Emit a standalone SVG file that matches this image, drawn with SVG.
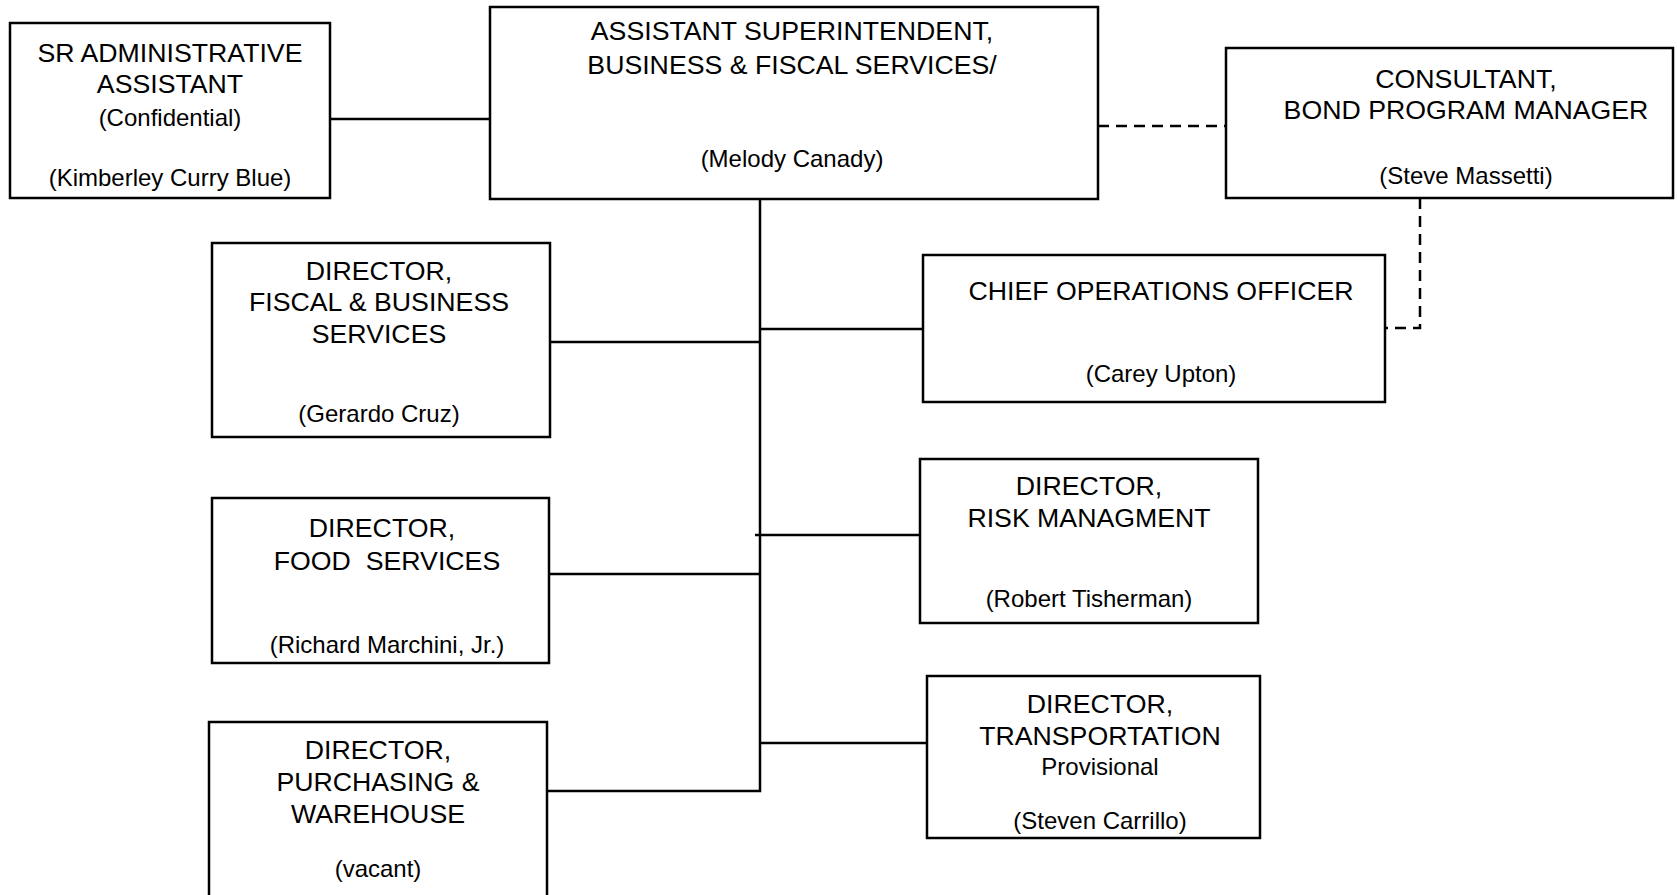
<svg xmlns="http://www.w3.org/2000/svg" width="1677" height="895" viewBox="0 0 1677 895">
<style>
rect{fill:#fff;stroke:#000;stroke-width:2.5}
text{font-family:"Liberation Sans",Arial,sans-serif;fill:#000;text-anchor:middle;white-space:pre}
.t{font-size:26.7px}
.s{font-size:24px}
.c line,.c path{stroke:#000;stroke-width:2.5;fill:none}
.c .d{stroke-dasharray:11 7}
</style>
<rect x="0" y="0" width="1677" height="895" style="stroke:none"/>
<g class="c" id="connectors">
<line x1="329" y1="119" x2="490" y2="119"/>
<line class="d" x1="1098" y1="126" x2="1226" y2="126"/>
<path class="d" d="M1420 198 V328 H1385"/>
<path d="M760 199 V791 H548"/>
<line x1="550" y1="342" x2="760" y2="342"/>
<line x1="760" y1="329" x2="923" y2="329"/>
<line x1="755" y1="535" x2="920" y2="535"/>
<line x1="549" y1="574" x2="760" y2="574"/>
<line x1="760" y1="743" x2="927" y2="743"/>
</g>
<g id="sr-admin">
<rect x="10" y="23" width="320" height="175"/>
<text class="t" x="170" y="62">SR ADMINISTRATIVE</text>
<text class="t" x="170" y="93">ASSISTANT</text>
<text class="s" x="170" y="126">(Confidential)</text>
<text class="s" x="170" y="186">(Kimberley Curry Blue)</text>
</g>
<g id="asst-super">
<rect x="490" y="7" width="608" height="192"/>
<text class="t" x="792" y="40">ASSISTANT SUPERINTENDENT,</text>
<text class="t" x="792" y="74">BUSINESS &amp; FISCAL SERVICES/</text>
<text class="s" x="792" y="167">(Melody Canady)</text>
</g>
<g id="consultant">
<rect x="1226" y="48" width="447" height="150"/>
<text class="t" x="1466" y="88">CONSULTANT,</text>
<text class="t" x="1466" y="119">BOND PROGRAM MANAGER</text>
<text class="s" x="1466" y="184">(Steve Massetti)</text>
</g>
<g id="coo">
<rect x="923" y="255" width="462" height="147"/>
<text class="t" x="1161" y="300">CHIEF OPERATIONS OFFICER</text>
<text class="s" x="1161" y="382">(Carey Upton)</text>
</g>
<g id="fiscal">
<rect x="212" y="243" width="338" height="194"/>
<text class="t" x="379" y="280">DIRECTOR,</text>
<text class="t" x="379" y="311">FISCAL &amp; BUSINESS</text>
<text class="t" x="379" y="343">SERVICES</text>
<text class="s" x="379" y="422">(Gerardo Cruz)</text>
</g>
<g id="food">
<rect x="212" y="498" width="337" height="165"/>
<text class="t" x="382" y="537">DIRECTOR,</text>
<text class="t" x="387" y="570">FOOD  SERVICES</text>
<text class="s" x="387" y="653">(Richard Marchini, Jr.)</text>
</g>
<g id="purchasing">
<rect x="209" y="722" width="338" height="190"/>
<text class="t" x="378" y="759">DIRECTOR,</text>
<text class="t" x="378" y="791">PURCHASING &amp;</text>
<text class="t" x="378" y="823">WAREHOUSE</text>
<text class="s" x="378" y="877">(vacant)</text>
</g>
<g id="risk">
<rect x="920" y="459" width="338" height="164"/>
<text class="t" x="1089" y="495">DIRECTOR,</text>
<text class="t" x="1089" y="527">RISK MANAGMENT</text>
<text class="s" x="1089" y="607">(Robert Tisherman)</text>
</g>
<g id="transport">
<rect x="927" y="676" width="333" height="162"/>
<text class="t" x="1100" y="713">DIRECTOR,</text>
<text class="t" x="1100" y="745">TRANSPORTATION</text>
<text class="s" x="1100" y="775">Provisional</text>
<text class="s" x="1100" y="829">(Steven Carrillo)</text>
</g>
</svg>
